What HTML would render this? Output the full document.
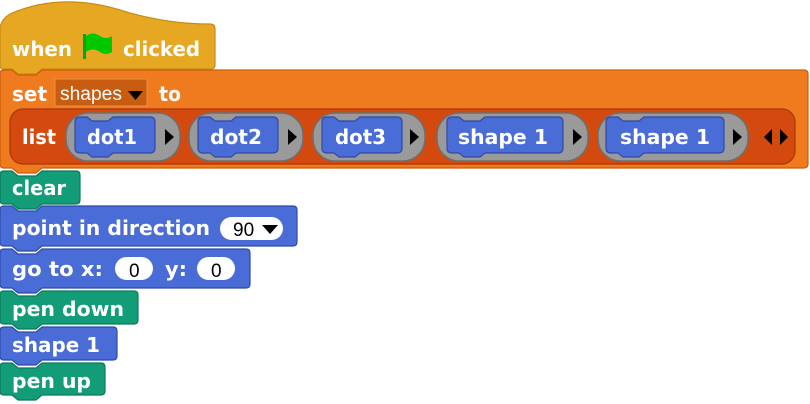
<!DOCTYPE html>
<html><head><meta charset="utf-8"><style>
html,body{margin:0;padding:0;background:#fff;width:810px;height:404px;overflow:hidden}
svg text{font-family:"DejaVu Sans","Liberation Sans",sans-serif;font-weight:bold;fill:#fff}
svg text.n{font-family:"Liberation Sans",sans-serif;font-weight:normal}
</style></head><body>
<svg id="s" width="810" height="404" xmlns="http://www.w3.org/2000/svg">
<g id="shapes"></g>
<g id="texts">
<text x="12" y="56" font-size="20" textLength="60" lengthAdjust="spacingAndGlyphs">when</text>
<text x="123" y="56" font-size="20" textLength="77" lengthAdjust="spacingAndGlyphs">clicked</text>
<text x="12" y="101" font-size="20" textLength="35" lengthAdjust="spacingAndGlyphs">set</text>
<text class="n" x="60" y="100" font-size="19" textLength="62" lengthAdjust="spacingAndGlyphs">shapes</text>
<polygon points="128,91 143,91 135.5,100" fill="#000"/>
<text x="159" y="101" font-size="20" textLength="22" lengthAdjust="spacingAndGlyphs">to</text>
<text x="22" y="144" font-size="20" textLength="34" lengthAdjust="spacingAndGlyphs">list</text>
<text x="87" y="144" font-size="20" textLength="50" lengthAdjust="spacingAndGlyphs">dot1</text>
<text x="210" y="144" font-size="20" textLength="52" lengthAdjust="spacingAndGlyphs">dot2</text>
<text x="335" y="144" font-size="20" textLength="51" lengthAdjust="spacingAndGlyphs">dot3</text>
<text x="458" y="144" font-size="20" textLength="90" lengthAdjust="spacingAndGlyphs">shape 1</text>
<text x="620" y="144" font-size="20" textLength="90" lengthAdjust="spacingAndGlyphs">shape 1</text>
<text x="12" y="195" font-size="20" textLength="54" lengthAdjust="spacingAndGlyphs">clear</text>
<text x="12" y="235" font-size="20" textLength="198" lengthAdjust="spacingAndGlyphs">point in direction</text>
<text class="n" x="233" y="236" font-size="19" style="fill:#000">90</text>
<polygon points="262,225 278,225 270,234" fill="#000"/>
<text x="12" y="276" font-size="20" textLength="91" lengthAdjust="spacingAndGlyphs">go to x:</text>
<text class="n" x="129" y="277" font-size="19" style="fill:#000">0</text>
<text x="165" y="276" font-size="20" textLength="22" lengthAdjust="spacingAndGlyphs">y:</text>
<text class="n" x="211" y="277" font-size="19" style="fill:#000">0</text>
<text x="12" y="316" font-size="20" textLength="112" lengthAdjust="spacingAndGlyphs">pen down</text>
<text x="12" y="352" font-size="20" textLength="88" lengthAdjust="spacingAndGlyphs">shape 1</text>
<text x="12" y="388" font-size="20" textLength="79" lengthAdjust="spacingAndGlyphs">pen up</text>
</g>
</svg>
<script>
var g=document.getElementById('shapes'),h='';
function cmd(x,y,w,ht,c,st,notchTop){
 var b=y+ht,p='M'+x+','+(y+4)+' Q'+x+','+y+' '+(x+4)+','+y;
 if(notchTop!==false) p+=' L'+(x+12)+','+y+' L'+(x+18)+','+(y+5)+' L'+(x+36)+','+(y+5)+' L'+(x+42)+','+y;
 p+=' L'+(x+w-4)+','+y+' Q'+(x+w)+','+y+' '+(x+w)+','+(y+4)+' L'+(x+w)+','+(b-4)+' Q'+(x+w)+','+b+' '+(x+w-4)+','+b+
 ' L'+(x+42)+','+b+' L'+(x+36)+','+(b+5)+' L'+(x+18)+','+(b+5)+' L'+(x+12)+','+b+' L'+(x+4)+','+b+' Q'+x+','+b+' '+x+','+(b-4)+' Z';
 h+='<path d="'+p+'" fill="'+c+'" stroke="'+st+'" stroke-width="1.2"/>';
}
function rep(x,y,w,ht){
 var b=y+ht,p='M'+x+','+(y+5)+' Q'+x+','+y+' '+(x+5)+','+y+' L'+(x+12)+','+y+' L'+(x+17)+','+(y+4)+' L'+(x+33)+','+(y+4)+' L'+(x+38)+','+y+
 ' L'+(x+w-5)+','+y+' Q'+(x+w)+','+y+' '+(x+w)+','+(y+5)+' L'+(x+w)+','+(b-5)+' Q'+(x+w)+','+b+' '+(x+w-5)+','+b+
 ' L'+(x+38)+','+b+' L'+(x+33)+','+(b+4)+' L'+(x+17)+','+(b+4)+' L'+(x+12)+','+b+' L'+(x+5)+','+b+' Q'+x+','+b+' '+x+','+(b-5)+' Z';
 h+='<path d="'+p+'" fill="#4a6cd6" stroke="#2f4aa8" stroke-width="1.2"/>';
}
function slot(x,w,bx,bw){
 h+='<rect x="'+x+'" y="113" width="'+w+'" height="48" rx="22" fill="#9a9a9a" stroke="#6f6f6f" stroke-width="1.5"/>';
 rep(bx,117,bw,36);
 var ax=x+w-15;
 h+='<polygon points="'+ax+',129 '+(ax+9)+',137 '+ax+',145" fill="#000"/>';
}
h+='<path d="M0,30 Q0,20 10,14 Q60,-8 120,10 Q165,24 210,24 Q215,24 215,29 L215,65 Q215,69 211,69 L42,69 L36,74 L18,74 L12,69 L4,69 Q0,69 0,65 Z" fill="#e6a822" stroke="#c78c12" stroke-width="1.2"/>';
h+='<path d="M83,34 L86,34 L86,59 L83,59 Z" fill="#0a0"/><path d="M86,36 Q93,31 100,36 Q106,40 112,36 L112,52 Q106,56 100,52 Q93,47 86,52 Z" fill="#00c800"/>';
cmd(0,70,808,98,'#f07a1e','#c95f0e');
h+='<rect x="55" y="79" width="92" height="27" fill="#c85c10" stroke="#e8904a" stroke-width="1"/>';
h+='<rect x="10" y="109" width="785" height="55" rx="13" fill="#d44a0e" stroke="#a8380a" stroke-width="1.2"/>';
slot(66,114,75,80);
slot(189,114,198,80);
slot(313,112,322,80);
slot(437,151,447,116);
slot(598,150,606,118);
h+='<polygon points="772,129 764,137 772,145" fill="#000"/><polygon points="780,129 788,137 780,145" fill="#000"/>';
cmd(0,171,80,33,'#129c77','#0c7a5c');
cmd(0,206,297,40,'#4a6cd6','#2f4aa8');
h+='<rect x="220" y="217" width="63" height="23" rx="11.5" fill="#fff"/>';
cmd(0,249,250,39,'#4a6cd6','#2f4aa8');
h+='<rect x="115" y="257" width="38" height="23" rx="11.5" fill="#fff"/><rect x="197" y="257" width="38" height="23" rx="11.5" fill="#fff"/>';
cmd(0,291,138,33,'#129c77','#0c7a5c');
cmd(0,327,117,33,'#4a6cd6','#2f4aa8');
cmd(0,363,105,32,'#129c77','#0c7a5c');
g.innerHTML=h;
</script>
</body></html>
